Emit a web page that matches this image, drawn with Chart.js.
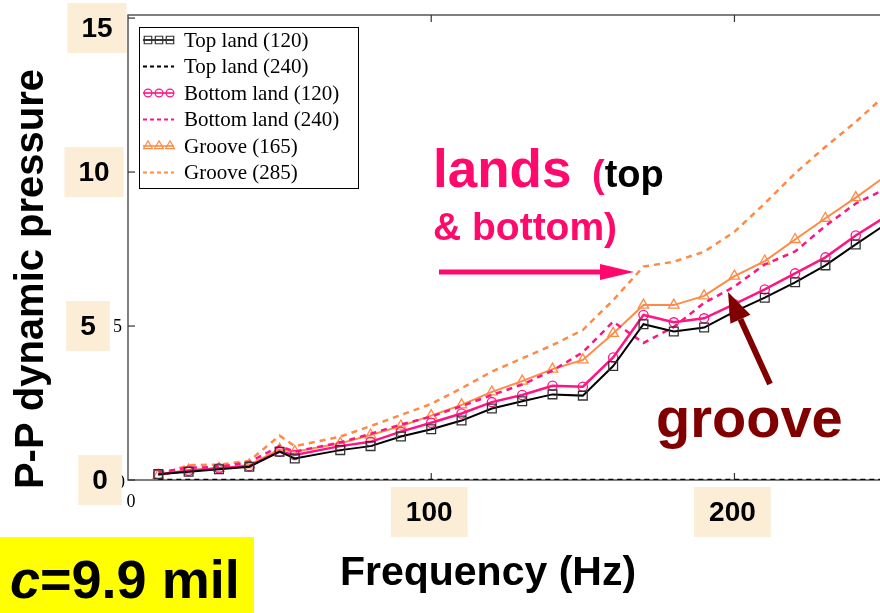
<!DOCTYPE html>
<html>
<head>
<meta charset="utf-8">
<script src="https://cdn.jsdelivr.net/npm/chart.js@4/dist/chart.umd.min.js"></script>
<style>
  html, body { margin: 0; padding: 0; background: #fff; overflow: hidden; }
  #wrap { position: relative; width: 880px; height: 613px; }
</style>
</head>
<body>
<div id="wrap"><canvas id="chart" width="880" height="613"></canvas></div>
<script>
// ---- Data ----
const freq = [10, 20, 30, 40, 50, 55, 70, 80, 90, 100, 110, 120, 130, 140, 150, 160, 170, 180, 190, 200, 210, 220, 230, 240, 250];

const topLand120    = [0.19, 0.27, 0.35, 0.43, 0.92, 0.70, 0.97, 1.10, 1.41, 1.65, 1.93, 2.32, 2.56, 2.78, 2.74, 3.70, 5.06, 4.82, 4.95, 5.47, 5.92, 6.42, 6.97, 7.65, 8.31];
const topLand240    = [0, 0, 0, 0, 0, 0, 0, 0, 0, 0, 0, 0, 0, 0, 0, 0, 0, 0, 0, 0, 0, 0, 0, 0, 0];
const bottomLand120 = [0.19, 0.30, 0.38, 0.45, 0.92, 0.81, 1.10, 1.24, 1.57, 1.86, 2.16, 2.53, 2.76, 3.06, 3.03, 3.98, 5.36, 5.12, 5.25, 5.71, 6.19, 6.71, 7.23, 7.94, 8.56];
const bottomLand240 = [0.25, 0.40, 0.42, 0.58, 1.10, 0.92, 1.22, 1.50, 1.80, 2.06, 2.40, 2.76, 3.10, 3.55, 4.15, 5.14, 4.45, 4.97, 5.75, 6.28, 7.00, 7.42, 8.25, 8.98, 9.46];
const groove165     = [0.16, 0.32, 0.38, 0.49, 1.00, 0.92, 1.19, 1.46, 1.75, 2.09, 2.44, 2.86, 3.21, 3.60, 3.90, 4.76, 5.68, 5.68, 5.98, 6.62, 7.11, 7.81, 8.50, 9.17, 9.88];
const groove285     = [0.16, 0.48, 0.50, 0.62, 1.44, 1.10, 1.41, 1.75, 2.11, 2.47, 2.98, 3.52, 3.95, 4.38, 4.87, 5.84, 6.93, 7.09, 7.41, 8.06, 8.98, 9.96, 10.82, 11.63, 12.52];

const seriesLabels = ['Top land (120)', 'Top land (240)', 'Bottom land (120)', 'Bottom land (240)', 'Groove (165)', 'Groove (285)'];
const xTickLabels = [100, 200];
const yTickLabels = [0, 5, 10, 15];

// ---- Colours ----
const BLACK  = '#000000';
const PINK   = '#FF1484';
const ORANGE = '#FF8A45';
const BEIGE  = '#FBEDD6';

// beige boxes on the y axis sit a bit unevenly in the original slide
const Y_BOX_CENTER = { 0: 100, 5: 88, 10: 94, 15: 97 };

function pts(ys) {
  return freq.map(function (f, i) { return { x: f, y: ys[i] }; });
}

const datasets = [
  { label: seriesLabels[0], data: pts(topLand120), borderColor: BLACK, borderWidth: 2,
    pointStyle: 'rect', pointRadius: 6.2, pointBorderColor: '#333', pointBorderWidth: 1.3, pointBackgroundColor: 'rgba(0,0,0,0)' },
  { label: seriesLabels[1], data: pts(topLand240), borderColor: BLACK, borderWidth: 2.5, borderDash: [5, 4],
    pointRadius: 0 },
  { label: seriesLabels[2], data: pts(bottomLand120), borderColor: PINK, borderWidth: 2.5,
    pointStyle: 'circle', pointRadius: 4.6, pointBorderColor: PINK, pointBorderWidth: 1.3, pointBackgroundColor: 'rgba(0,0,0,0)' },
  { label: seriesLabels[3], data: pts(bottomLand240), borderColor: PINK, borderWidth: 2.5, borderDash: [6, 5],
    pointRadius: 0 },
  { label: seriesLabels[4], data: pts(groove165), borderColor: ORANGE, borderWidth: 2,
    pointStyle: 'triangle', pointRadius: 6, pointBorderColor: ORANGE, pointBorderWidth: 1.3, pointBackgroundColor: 'rgba(0,0,0,0)' },
  { label: seriesLabels[5], data: pts(groove285), borderColor: ORANGE, borderWidth: 2.5, borderDash: [6, 5],
    pointRadius: 0 }
];

// ---- Helpers ----
function arrow(ctx, x1, y1, x2, y2, width, headLen, headHalf, color) {
  const ang = Math.atan2(y2 - y1, x2 - x1);
  const bx = x2 - headLen * Math.cos(ang), by = y2 - headLen * Math.sin(ang);
  ctx.strokeStyle = color; ctx.fillStyle = color; ctx.lineWidth = width; ctx.setLineDash([]);
  ctx.beginPath(); ctx.moveTo(x1, y1); ctx.lineTo(bx, by); ctx.stroke();
  ctx.beginPath();
  ctx.moveTo(x2, y2);
  ctx.lineTo(bx + headHalf * Math.sin(ang), by - headHalf * Math.cos(ang));
  ctx.lineTo(bx - headHalf * Math.sin(ang), by + headHalf * Math.cos(ang));
  ctx.closePath(); ctx.fill();
}

function labelBox(ctx, text, cx, cy, font, padX, h) {
  ctx.font = font;
  const w = ctx.measureText(text).width + padX * 2;
  const top = Math.max(3, cy - h / 2);
  ctx.fillStyle = BEIGE;
  ctx.fillRect(cx - w / 2, top, w, h);
  ctx.fillStyle = '#000';
  ctx.textAlign = 'center'; ctx.textBaseline = 'middle';
  ctx.fillText(text, cx, top + h / 2 + 1);
}

// ---- Frame, ticks, labels, annotations ----
const framePlugin = {
  id: 'frame',
  beforeDatasetsDraw: function (chart) {
    const ctx = chart.ctx, a = chart.chartArea, xs = chart.scales.x, ys = chart.scales.y;
    ctx.save();
    ctx.strokeStyle = '#555'; ctx.lineWidth = 1.5;
    ctx.beginPath();
    ctx.moveTo(a.right, a.top); ctx.lineTo(a.left, a.top);
    ctx.lineTo(a.left, a.bottom); ctx.lineTo(a.right, a.bottom);
    ctx.stroke();
    ctx.lineWidth = 1.2; ctx.strokeStyle = '#333';
    xTickLabels.forEach(function (v) {
      const px = xs.getPixelForValue(v);
      ctx.beginPath();
      ctx.moveTo(px, a.bottom); ctx.lineTo(px, a.bottom - 7);
      ctx.moveTo(px, a.top); ctx.lineTo(px, a.top + 7);
      ctx.stroke();
    });
    yTickLabels.forEach(function (v) {
      const py = ys.getPixelForValue(v);
      ctx.beginPath(); ctx.moveTo(a.left, py); ctx.lineTo(a.left + 7, py); ctx.stroke();
    });
    ctx.restore();
  },
  afterDraw: function (chart) {
    const ctx = chart.ctx, a = chart.chartArea, xs = chart.scales.x, ys = chart.scales.y;
    ctx.save();

    // original small serif tick labels peeking out
    ctx.fillStyle = '#000'; ctx.font = '18px "Liberation Serif"';
    ctx.textAlign = 'right'; ctx.textBaseline = 'middle';
    ctx.fillText('5', a.left - 6, ys.getPixelForValue(5) + 1);
    ctx.fillText('0', a.left - 3, ys.getPixelForValue(0) + 3);
    ctx.textAlign = 'center'; ctx.textBaseline = 'top';
    ctx.fillText('0', a.left + 3, a.bottom + 13);

    // beige tick boxes
    const tickFont = 'bold 28px "Liberation Sans", Arial, sans-serif';
    yTickLabels.forEach(function (v) {
      labelBox(ctx, String(v), Y_BOX_CENTER[v], ys.getPixelForValue(v), tickFont, 14, 50);
    });
    xTickLabels.forEach(function (v) {
      labelBox(ctx, String(v), xs.getPixelForValue(v) - 2, a.bottom + 32, tickFont, 15, 50);
    });

    // axis titles
    ctx.fillStyle = '#000';
    ctx.font = 'bold 40px "Liberation Sans", Arial, sans-serif';
    ctx.save();
    ctx.translate(43, 279); ctx.rotate(-Math.PI / 2);
    ctx.textAlign = 'center'; ctx.textBaseline = 'alphabetic';
    ctx.fillText('P-P dynamic pressure', 0, 0);
    ctx.restore();
    ctx.font = 'bold 41px "Liberation Sans", Arial, sans-serif';
    ctx.textAlign = 'center'; ctx.textBaseline = 'alphabetic';
    ctx.fillText('Frequency (Hz)', 488, 585);

    // yellow gap label
    ctx.fillStyle = '#FFFF00';
    ctx.fillRect(0, 537, 254, 76);
    ctx.fillStyle = '#000'; ctx.textAlign = 'left';
    ctx.font = 'italic bold 54px "Liberation Sans", Arial, sans-serif';
    ctx.fillText('c', 10, 598);
    const cw = ctx.measureText('c').width;
    ctx.font = 'bold 54px "Liberation Sans", Arial, sans-serif';
    ctx.fillText('=9.9 mil', 10 + cw, 598);

    // "lands (top & bottom)" annotation
    ctx.font = 'bold 53px "Liberation Sans", Arial, sans-serif';
    ctx.fillStyle = '#FF0A6C';
    ctx.fillText('lands', 433, 187);
    ctx.font = 'bold 38px "Liberation Sans", Arial, sans-serif';
    ctx.fillText('(', 592, 187);
    const pw = ctx.measureText('(').width;
    ctx.fillStyle = '#000';
    ctx.fillText('top', 592 + pw, 187);
    ctx.fillStyle = '#FF0A6C';
    ctx.font = 'bold 39px "Liberation Sans", Arial, sans-serif';
    ctx.fillText('& bottom)', 433, 240);
    arrow(ctx, 439, 272, 634, 272, 5, 34, 8, '#FF0A6C');

    // "groove" annotation
    ctx.font = 'bold 56px "Liberation Sans", Arial, sans-serif';
    ctx.fillStyle = '#800000';
    ctx.fillText('groove', 656, 437);
    arrow(ctx, 770, 384, 728, 292, 6, 30, 11, '#800000');

    // legend
    const lx = 139, ly = 27, lw = 219, lh = 161;
    ctx.fillStyle = '#fff'; ctx.fillRect(lx, ly, lw, lh);
    ctx.strokeStyle = '#000'; ctx.lineWidth = 1; ctx.setLineDash([]);
    ctx.strokeRect(lx + 0.5, ly + 0.5, lw, lh);
    ctx.font = '21px "Liberation Serif", "Times New Roman", serif';
    ctx.textAlign = 'left'; ctx.textBaseline = 'middle';
    chart.data.datasets.forEach(function (ds, i) {
      const yy = ly + 13 + i * 26.5;
      ctx.strokeStyle = ds.borderColor;
      ctx.lineWidth = ds.borderDash ? 2 : 1.6;
      ctx.setLineDash(ds.borderDash ? [4, 3] : []);
      ctx.beginPath(); ctx.moveTo(lx + 4, yy); ctx.lineTo(lx + 35, yy); ctx.stroke();
      ctx.setLineDash([]);
      if (ds.pointRadius > 0) {
        [lx + 9, lx + 20, lx + 31].forEach(function (mx) {
          ctx.fillStyle = 'rgba(0,0,0,0)';
          ctx.strokeStyle = ds.pointBorderColor; ctx.lineWidth = 1.2;
          Chart.helpers.drawPoint(ctx, {
            pointStyle: ds.pointStyle, radius: ds.pointRadius * 0.85, rotation: 0,
            borderWidth: 1.2
          }, mx, yy);
        });
      }
      ctx.fillStyle = '#000';
      ctx.fillText(ds.label, lx + 45, yy + 1);
    });

    ctx.restore();
  }
};

new Chart(document.getElementById('chart').getContext('2d'), {
  type: 'line',
  data: { datasets: datasets },
  options: {
    responsive: false,
    animation: false,
    layout: { autoPadding: false, padding: { left: 128, top: 15, right: 0, bottom: 133 } },
    elements: { line: { tension: 0, fill: false } },
    scales: {
      x: { type: 'linear', min: 0, max: 248, display: false },
      y: { type: 'linear', min: 0, max: 15.1, display: false }
    },
    plugins: { legend: { display: false }, tooltip: { enabled: false } }
  },
  plugins: [framePlugin]
});
</script>
</body>
</html>
